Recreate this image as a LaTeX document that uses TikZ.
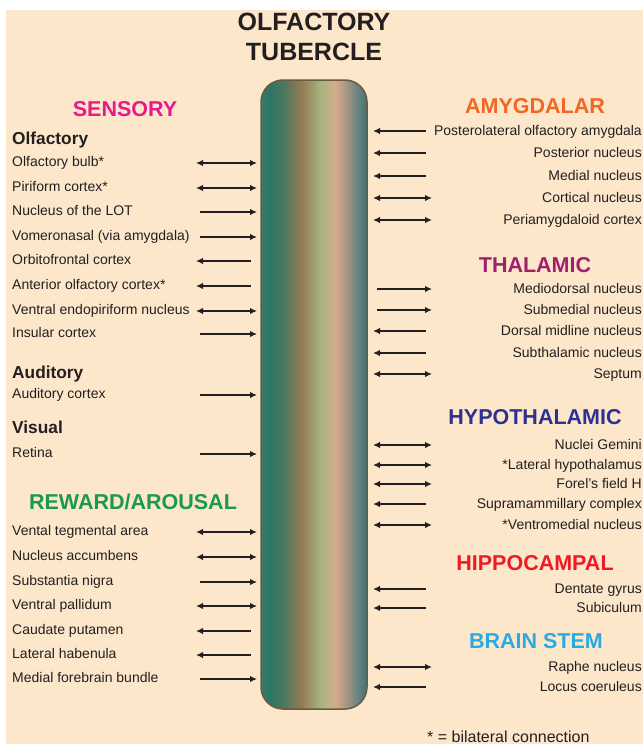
\documentclass[tikz,border=0pt]{standalone}
\usepackage{fontspec}
\setmainfont{Liberation Sans}
\usetikzlibrary{arrows.meta,shadings}
\definecolor{peach}{RGB}{253,231,203}
\definecolor{ink}{RGB}{35,31,32}
\definecolor{sens}{RGB}{232,25,139}
\definecolor{rew}{RGB}{26,154,74}
\definecolor{amyg}{RGB}{242,101,34}
\definecolor{thal}{RGB}{160,32,110}
\definecolor{hypo}{RGB}{46,49,146}
\definecolor{hipp}{RGB}{237,28,36}
\definecolor{stem}{RGB}{41,171,226}
\definecolor{rim}{RGB}{107,91,62}
% bar colours, left to right
\definecolor{tbA}{HTML}{3A7A6E}
\definecolor{tbB}{HTML}{2A7664}
\definecolor{tbC}{HTML}{4E775E}
\definecolor{tbD}{HTML}{937B56}
\definecolor{tbE}{HTML}{A0A672}
\definecolor{tbF}{HTML}{A8B47E}
\definecolor{tbG}{HTML}{C8B088}
\definecolor{tbH}{HTML}{D5AA8A}
\definecolor{tbI}{HTML}{B49A85}
\definecolor{tbJ}{HTML}{6E8580}
\definecolor{tbK}{HTML}{3D7479}
\pgfdeclarehorizontalshading{tubercle}{100bp}{color(0bp)=(tbA); color(25bp)=(tbA);
  color(29bp)=(tbB); color(36bp)=(tbC); color(44bp)=(tbD); color(51bp)=(tbE);
  color(53bp)=(tbF); color(58bp)=(tbG); color(60bp)=(tbH); color(64bp)=(tbI);
  color(70bp)=(tbJ); color(75bp)=(tbK); color(100bp)=(tbK)}

\begin{document}
\begin{tikzpicture}[x=1pt,y=-1pt,>={Latex[length=7pt,width=6.5pt]},
  lbl/.style={anchor=base west,inner sep=0,text=ink,font=\fontsize{14}{16}\selectfont},
  rlbl/.style={anchor=base east,inner sep=0,text=ink,font=\fontsize{14}{16}\selectfont},
  sub/.style={anchor=base west,inner sep=0,text=ink,font=\fontsize{17.3}{20}\selectfont\bfseries},
  grp/.style={anchor=base,inner sep=0,font=\fontsize{21.5}{24}\selectfont\bfseries},
  ttl/.style={anchor=base,inner sep=0,text=ink,font=\fontsize{25}{28}\selectfont\bfseries},
  link/.style={line width=1.5pt,ink},
  barr/.style={<->},
  rarr/.style={->,shorten <=4pt},
  larr/.style={<-,shorten >=6pt},
  tubbar/.style={shade,shading=tubercle,draw=rim,line width=1.5pt,rounded corners=22pt,
    minimum width=106pt,minimum height=629pt,inner sep=0}]
% page
\useasboundingbox (0,0) rectangle (643,744);
\fill[peach] (6,10) rectangle (643,744);
% title and bar
\node[ttl] (ttl1) at (314,30) {OLFACTORY};
\node[ttl] (ttl2) at (314,60) {TUBERCLE};
\node[tubbar] (tub) at (314,394.5) {};
% left groups
\node[grp,sens] (sensory) at (125,116) {SENSORY};
\node[sub] (olf) at (12,144) {Olfactory};
\node[sub] (aud) at (12,378) {Auditory};
\node[sub] (vis) at (12,433) {Visual};
\node[grp,rew] (reward) at (133,509) {REWARD/AROUSAL};
\foreach \n/\y/\lab/\d in {1/161/Olfactory bulb*/barr,2/186/Piriform cortex*/barr,
  3/210/Nucleus of the LOT/rarr,4/235/Vomeronasal (via amygdala)/rarr,
  5/259/Orbitofrontal cortex/larr,6/284/Anterior olfactory cortex*/larr,
  7/309/Ventral endopiriform nucleus/barr,8/332/Insular cortex/rarr,
  9/393/Auditory cortex/rarr,10/452/Retina/rarr,
  11/530/Vental tegmental area/barr,12/555/Nucleus accumbens/barr,
  13/580/Substantia nigra/rarr,14/604/Ventral pallidum/barr,
  15/629/Caudate putamen/larr,16/653/Lateral habenula/larr,
  17/677/Medial forebrain bundle/rarr}{
  \node[lbl] (L\n) at (12,\y+5) {\lab};
  \coordinate (La\n) at (196,\y+2);
  \coordinate (Lb\n) at (257,\y+2);
  \draw[link,\d] (La\n) -- (Lb\n);
}
% right groups
\node[grp,amyg] (amygdalar) at (535,113) {AMYGDALAR};
\node[grp,thal] (thalamic) at (535,272) {THALAMIC};
\node[grp,hypo] (hypothal) at (535,424) {HYPOTHALAMIC};
\node[grp,hipp] (hippo) at (535,570) {HIPPOCAMPAL};
\node[grp,stem] (brainstem) at (536,648) {BRAIN STEM};
\foreach \n/\y/\lab/\d in {1/130/Posterolateral olfactory amygdala/larr,
  2/152/Posterior nucleus/larr,3/175/Medial nucleus/larr,
  4/197/Cortical nucleus/barr,5/219/Periamygdaloid cortex/barr,
  6/288/Mediodorsal nucleus/rarr,7/309/Submedial nucleus/rarr,
  8/330/Dorsal midline nucleus/larr,9/352/Subthalamic nucleus/larr,
  10/373/Septum/barr,11/444/Nuclei Gemini/barr,
  12/464/*Lateral hypothalamus/barr,13/483/Forel's field H/barr,
  14/503/Supramammillary complex/larr,15/524/*Ventromedial nucleus/barr,
  16/588/Dentate gyrus/larr,17/607/Subiculum/larr,
  18/666/Raphe nucleus/barr,19/686/Locus coeruleus/larr}{
  \node[rlbl] (R\n) at (642,\y+5) {\lab};
  \coordinate (Ra\n) at (373,\y+1);
  \coordinate (Rb\n) at (432,\y+1);
  \draw[link,\d] (Ra\n) -- (Rb\n);
}
% footnote
\node[lbl,font=\fontsize{16}{18}\selectfont] (note) at (427,742) {* = bilateral connection};
\end{tikzpicture}
\end{document}
